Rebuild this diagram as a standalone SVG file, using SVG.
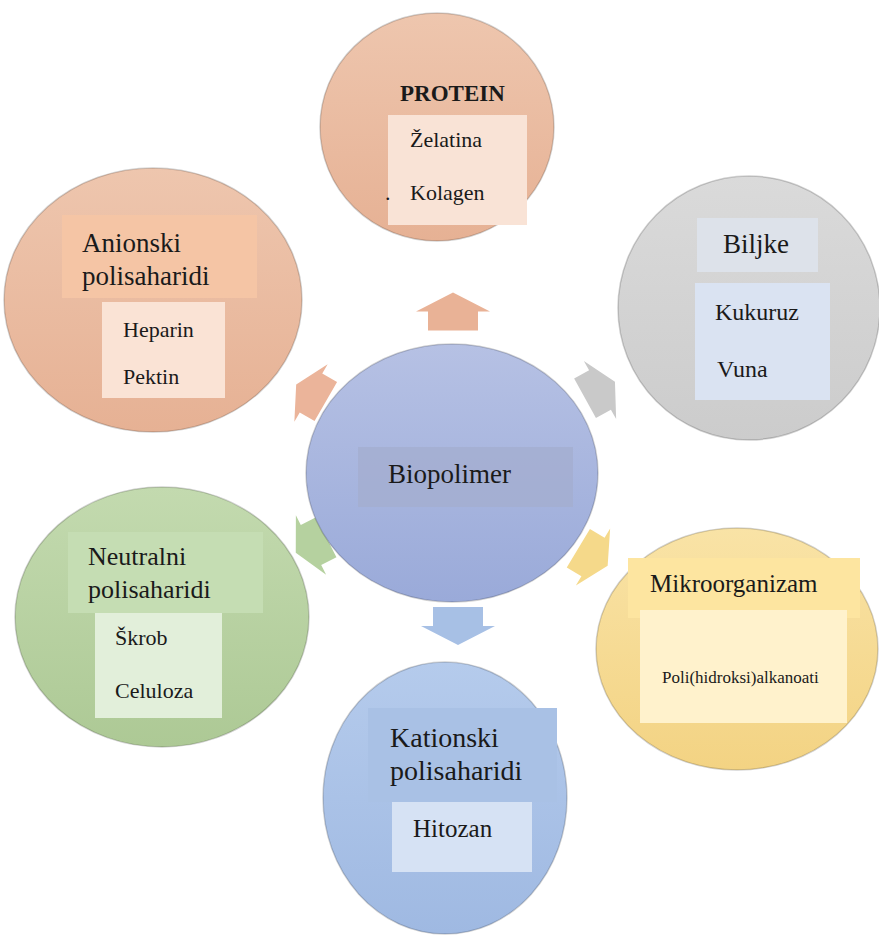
<svg xmlns="http://www.w3.org/2000/svg" width="879" height="944" viewBox="0 0 879 944">
<defs>
<linearGradient id="gOr" x1="0" y1="0" x2="0" y2="1"><stop offset="0" stop-color="#eec6ae"/><stop offset="1" stop-color="#e6b194"/></linearGradient>
<linearGradient id="gGr" x1="0" y1="0" x2="0" y2="1"><stop offset="0" stop-color="#dadada"/><stop offset="1" stop-color="#cccccc"/></linearGradient>
<linearGradient id="gYe" x1="0" y1="0" x2="0" y2="1"><stop offset="0" stop-color="#f9e3a6"/><stop offset="1" stop-color="#f3d383"/></linearGradient>
<linearGradient id="gGn" x1="0" y1="0" x2="0" y2="1"><stop offset="0" stop-color="#c3daaf"/><stop offset="1" stop-color="#adc995"/></linearGradient>
<linearGradient id="gCe" x1="0" y1="0" x2="0" y2="1"><stop offset="0" stop-color="#b6c1e4"/><stop offset="1" stop-color="#9aaad9"/></linearGradient>
<linearGradient id="gBl" x1="0" y1="0" x2="0" y2="1"><stop offset="0" stop-color="#b5cbec"/><stop offset="1" stop-color="#9fb9e2"/></linearGradient>
<polygon id="arr" points="-19,-25 0,-25 0,-37 19,0 0,37 0,25 -19,25"/>
</defs>
<style>
.c{stroke:#000;stroke-opacity:0.18;stroke-width:1.5}
.t{font-family:'Liberation Serif','DejaVu Serif',serif;fill:#1a1a1a}
.h{font-size:27px}
.i{font-size:22px}
</style>
<rect width="879" height="944" fill="#ffffff"/>
<g id="connectors">
<use href="#arr" transform="translate(453,311.5) rotate(-90)" fill="#e9b296"/>
<use href="#arr" transform="translate(311,393) rotate(-150) scale(0.9)" fill="#ebb49a"/>
<use href="#arr" transform="translate(600,390) rotate(-29) scale(0.9)" fill="#c9c9c9"/>
<use href="#arr" transform="translate(311,545) rotate(153) scale(0.9)" fill="#b5d19f"/>
<use href="#arr" transform="translate(593,557) rotate(31) scale(0.9)" fill="#f5d98a"/>
<use href="#arr" transform="translate(458,626) rotate(90)" fill="#a7c0e5"/>
</g>
<g id="center">
<ellipse class="c" cx="452" cy="473" rx="146" ry="129" fill="url(#gCe)"/>
<rect x="358" y="447" width="215" height="60" fill="#a4aed0" opacity="0.8"/>
<text class="t h" font-family="Liberation Serif, DejaVu Serif, serif" x="388" y="483">Biopolimer</text>
</g>
<g id="protein">
<ellipse class="c" cx="437" cy="127" rx="117" ry="114" fill="url(#gOr)"/>
<rect x="388" y="115" width="139" height="110" fill="#f9e3d6"/>
<text class="t" font-family="Liberation Serif, DejaVu Serif, serif" x="400" y="101" font-size="23" font-weight="bold">PROTEIN</text>
<text class="t i" font-family="Liberation Serif, DejaVu Serif, serif" x="410" y="147">Želatina</text>
<text class="t i" font-family="Liberation Serif, DejaVu Serif, serif" x="385" y="200">.</text>
<text class="t i" font-family="Liberation Serif, DejaVu Serif, serif" x="410" y="200">Kolagen</text>
</g>
<g id="anionski">
<ellipse class="c" cx="153" cy="300" rx="149" ry="132" fill="url(#gOr)"/>
<rect x="62" y="215" width="195" height="83" fill="#f5c5a5"/>
<rect x="102" y="302" width="123" height="96" fill="#fae3d5"/>
<text class="t h" font-family="Liberation Serif, DejaVu Serif, serif" x="82" y="252">Anionski</text>
<text class="t h" font-family="Liberation Serif, DejaVu Serif, serif" x="82" y="285">polisaharidi</text>
<text class="t i" font-family="Liberation Serif, DejaVu Serif, serif" x="123" y="337">Heparin</text>
<text class="t i" font-family="Liberation Serif, DejaVu Serif, serif" x="123" y="384">Pektin</text>
</g>
<g id="biljke">
<ellipse class="c" cx="749" cy="308" rx="131" ry="132" fill="url(#gGr)"/>
<rect x="697" y="218" width="121" height="54" fill="#dde2ea"/>
<rect x="695" y="283" width="135" height="117" fill="#dae3f2"/>
<text class="t h" font-family="Liberation Serif, DejaVu Serif, serif" x="723" y="253">Biljke</text>
<text class="t" font-family="Liberation Serif, DejaVu Serif, serif" x="715" y="320" font-size="24">Kukuruz</text>
<text class="t" font-family="Liberation Serif, DejaVu Serif, serif" x="717" y="377" font-size="24">Vuna</text>
</g>
<g id="mikroorganizam">
<ellipse class="c" cx="737" cy="649" rx="141" ry="121" fill="url(#gYe)"/>
<rect x="628" y="558" width="232" height="60" fill="#fde5a0"/>
<rect x="640" y="610" width="207" height="113" fill="#fff2cc"/>
<text class="t" font-family="Liberation Serif, DejaVu Serif, serif" x="650" y="592" font-size="25">Mikroorganizam</text>
<text class="t" font-family="Liberation Serif, DejaVu Serif, serif" x="662" y="683" font-size="17">Poli(hidroksi)alkanoati</text>
</g>
<g id="neutralni">
<ellipse class="c" cx="162" cy="617" rx="147" ry="130" fill="url(#gGn)"/>
<rect x="68" y="532" width="195" height="81" fill="#c5ddb3"/>
<rect x="95" y="613" width="127" height="105" fill="#e2efda"/>
<text class="t" font-family="Liberation Serif, DejaVu Serif, serif" x="88" y="565" font-size="26">Neutralni</text>
<text class="t" font-family="Liberation Serif, DejaVu Serif, serif" x="88" y="598" font-size="26">polisaharidi</text>
<text class="t i" font-family="Liberation Serif, DejaVu Serif, serif" x="115" y="645">Škrob</text>
<text class="t i" font-family="Liberation Serif, DejaVu Serif, serif" x="115" y="698">Celuloza</text>
</g>
<g id="kationski">
<ellipse class="c" cx="445" cy="798" rx="122" ry="136" fill="url(#gBl)"/>
<rect x="368" y="708" width="189" height="94" fill="#a9c1e5"/>
<rect x="392" y="802" width="140" height="70" fill="#d6e2f4"/>
<text class="t" font-family="Liberation Serif, DejaVu Serif, serif" x="390" y="747" font-size="28">Kationski</text>
<text class="t" font-family="Liberation Serif, DejaVu Serif, serif" x="390" y="780" font-size="28">polisaharidi</text>
<text class="t" font-family="Liberation Serif, DejaVu Serif, serif" x="413" y="837" font-size="25">Hitozan</text>
</g>
</svg>
